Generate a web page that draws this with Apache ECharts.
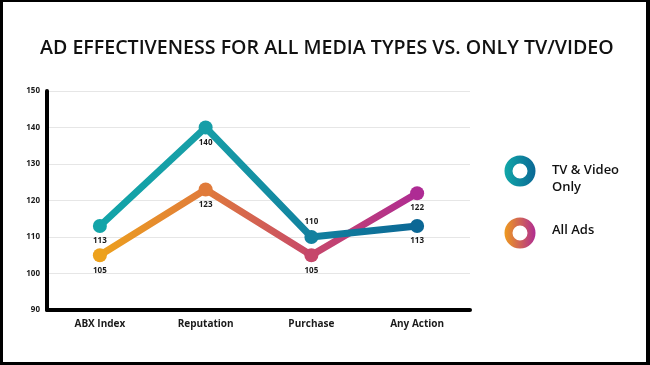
<!DOCTYPE html>
<html>
<head>
<meta charset="utf-8">
<script src="https://cdn.jsdelivr.net/npm/echarts@6/dist/echarts.min.js"></script>
<style>
html,body{margin:0;padding:0;background:#fff;}
#wrap{position:relative;width:650px;height:365px;}
#chart{position:absolute;left:0;top:0;width:650px;height:365px;}
#frame{position:absolute;left:0;top:0;width:650px;height:365px;box-sizing:border-box;border-style:solid;border-color:#000;border-width:2px 4px 3px 3px;pointer-events:none;}
</style>
</head>
<body>
<div id="wrap"><div id="chart"></div><div id="frame"></div></div>
<script>
const titleText = 'AD EFFECTIVENESS FOR ALL MEDIA TYPES VS. ONLY TV/VIDEO';
const categories = ['ABX Index', 'Reputation', 'Purchase', 'Any Action'];
const seriesNames = ['TV & Video\nOnly', 'All Ads'];
const tvValues = [113, 140, 110, 113];
const allAdsValues = [105, 123, 105, 122];
const tvLabelPos = ['bottom', 'bottom', 'top', 'bottom'];
const allAdsLabelPos = ['bottom', 'bottom', 'bottom', 'bottom'];
const tvPointColors = ['#12a4a8', '#179ea7', '#12819f', '#0b6795'];
const allAdsPointColors = ['#eda11c', '#e07b3b', '#c6476a', '#ae2b94'];

const grad = (stops) => new echarts.graphic.LinearGradient(0, 0, 1, 0,
  stops.map((c, i) => ({offset: i / (stops.length - 1), color: c})));

function mkData(vals, cols, pos) {
  return vals.map((v, i) => ({
    value: v,
    itemStyle: {color: cols[i]},
    label: {position: pos[i]}
  }));
}

const chart = echarts.init(document.getElementById('chart'), null, {renderer: 'canvas'});
const labelStyle = {show: true, fontSize: 8, fontWeight: 'bold', color: '#1a1a1a', fontFamily: 'Open Sans', distance: 4};

chart.setOption({
  animation: false,
  backgroundColor: '#fff',
  title: {
    text: titleText, left: 35, top: 33,
    textStyle: {fontFamily: 'Open Sans', fontWeight: 600, fontSize: 19.6, color: '#111'}
  },
  grid: {left: 47, right: 180, top: 91, bottom: 55},
  xAxis: {
    type: 'category', data: categories, boundaryGap: true,
    axisLine: {lineStyle: {color: '#000', width: 4}},
    axisTick: {show: false},
    axisLabel: {fontFamily: 'Open Sans', fontWeight: 'bold', fontSize: 10, color: '#1a1a1a', margin: 9}
  },
  yAxis: {
    type: 'value', min: 90, max: 150, interval: 10,
    axisLine: {show: true, lineStyle: {color: '#000', width: 4}},
    axisTick: {show: false},
    axisLabel: {fontFamily: 'Open Sans', fontWeight: 'bold', fontSize: 8, color: '#1a1a1a', margin: 7},
    splitLine: {lineStyle: {color: '#e6e6e6', width: 1}}
  },
  series: [
    {
      name: seriesNames[1], type: 'line', z: 2,
      data: mkData(allAdsValues, allAdsPointColors, allAdsLabelPos),
      symbol: 'circle', symbolSize: 14,
      lineStyle: {width: 7, color: grad(allAdsPointColors)},
      label: labelStyle
    },
    {
      name: seriesNames[0], type: 'line', z: 3,
      data: mkData(tvValues, tvPointColors, tvLabelPos),
      symbol: 'circle', symbolSize: 14,
      lineStyle: {width: 7, color: grad(tvPointColors)},
      label: labelStyle
    }
  ],
  graphic: [
    {type: 'ring', shape: {cx: 520, cy: 171, r: 15.5, r0: 7.5},
     style: {fill: grad(['#11a7a8', '#0b6895'])}},
    {type: 'text', left: 552, top: 162, style: {text: seriesNames[0], font: '600 13px "Open Sans"', fill: '#111', lineHeight: 17}},
    {type: 'ring', shape: {cx: 520, cy: 233, r: 15.5, r0: 7.5},
     style: {fill: grad(['#ee9a1e', '#b02c92'])}},
    {type: 'text', left: 552, top: 224, style: {text: seriesNames[1], font: '600 13px "Open Sans"', fill: '#111'}}
  ]
});
</script>
</body>
</html>
